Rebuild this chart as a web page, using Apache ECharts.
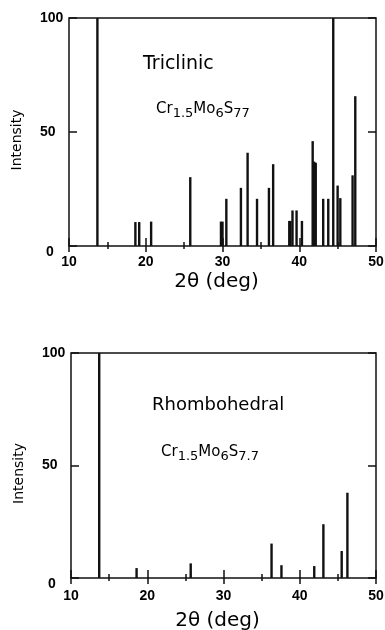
<!DOCTYPE html>
<html>
<head>
<meta charset="utf-8">
<script src="https://cdn.jsdelivr.net/npm/echarts@6/dist/echarts.min.js"></script>
<style>
  html, body { margin: 0; padding: 0; background: #fff; }
  #chart { width: 385px; height: 630px; }
</style>
</head>
<body>
<div id="chart"></div>
<script>
// peak positions (2theta, deg) and relative intensities
const triclinicAngle = [13.7, 18.65, 19.15, 20.7, 25.8, 29.8, 30.0, 30.5, 32.4, 33.27,
  34.5, 36.05, 36.6, 38.7, 38.85, 39.12, 39.65, 40.35, 41.75, 41.95, 42.15,
  43.12, 43.78, 44.43, 45.0, 45.35, 46.95, 47.3];
const triclinicIntensity = [100, 10.5, 10.5, 10.7, 30.2, 10.7, 10.7, 20.7, 25.5, 40.9,
  20.7, 25.5, 35.9, 11, 11, 15.6, 15.6, 11, 46, 37, 36.5,
  20.7, 20.7, 100, 26.5, 21, 31, 65.7];

const rhomboAngle = [13.7, 18.6, 25.7, 36.3, 37.6, 41.9, 43.1, 45.5, 46.25];
const rhomboIntensity = [100, 4.4, 6.5, 15.3, 5.7, 5.3, 23.9, 12, 37.9];

const xTicks = [10, 20, 30, 40, 50];
const yTicks = [0, 50, 100];

const ink = '#111';
const labelFont = 'Liberation Sans';
const textFont = 'DejaVu Sans';

const pairs = (xs, ys) => xs.map((x, i) => [x, ys[i]]);

const chart = echarts.init(document.getElementById('chart'));

const bottomX = (grid, margin, gap) => ({
  type: 'value', gridIndex: grid, position: 'bottom',
  min: xTicks[0], max: xTicks[xTicks.length - 1], interval: 10,
  axisLine: { show: false },
  axisTick: { inside: true, length: 8, lineStyle: { color: ink, width: 1.5 } },
  minorTick: { show: true, splitNumber: 2, length: 4, lineStyle: { color: ink, width: 1.5 } },
  splitLine: { show: false },
  axisLabel: { color: '#000', fontFamily: labelFont, fontWeight: 'bold', fontSize: 14, margin: margin },
  name: '2θ (deg)', nameLocation: 'middle', nameGap: gap,
  nameTextStyle: { color: '#000', fontFamily: textFont, fontSize: 20, padding: [0, 12, 0, 0] }
});

const topX = (grid) => ({
  type: 'value', gridIndex: grid, position: 'top',
  min: xTicks[0], max: xTicks[xTicks.length - 1], interval: 10,
  axisLine: { show: false },
  axisTick: { inside: true, length: 6, lineStyle: { color: ink, width: 1.5 } },
  minorTick: { show: true, splitNumber: 2, length: 3, lineStyle: { color: ink, width: 1.5 } },
  splitLine: { show: false },
  axisLabel: { show: false }
});

const leftY = (grid) => ({
  type: 'value', gridIndex: grid, position: 'left',
  min: yTicks[0], max: yTicks[yTicks.length - 1], interval: 50,
  axisLine: { show: false },
  axisTick: { inside: true, length: 8, lineStyle: { color: ink, width: 1.5 } },
  splitLine: { show: false },
  axisLabel: {
    color: '#000', fontFamily: labelFont, fontWeight: 'bold', fontSize: 14,
    align: 'left', margin: 29,
    formatter: v => v === 0 ? '{z|0}' : String(v),
    rich: { z: { fontFamily: labelFont, fontWeight: 'bold', fontSize: 14, color: '#000', padding: [12, 0, 0, 6] } }
  },
  name: 'Intensity', nameLocation: 'middle', nameGap: 45,
  nameTextStyle: { color: '#000', fontFamily: textFont, fontSize: 14, padding: [0, 16, 0, 0] }
});

const rightY = (grid) => ({
  type: 'value', gridIndex: grid, position: 'right',
  min: yTicks[0], max: yTicks[yTicks.length - 1], interval: 50,
  axisLine: { show: false },
  axisTick: { inside: true, length: 8, lineStyle: { color: ink, width: 1.5 } },
  splitLine: { show: false },
  axisLabel: { show: false }
});

const formulaRich = {
  m: { fontFamily: textFont, fontSize: 15, color: '#000' },
  s: { fontFamily: textFont, fontSize: 13, color: '#000', padding: [9, 0, 0, 0] }
};

const option = {
  backgroundColor: '#fff',
  animation: false,
  grid: [
    { left: 69, top: 18, width: 307, height: 228, show: true, borderColor: ink, borderWidth: 1.5,
      outerBoundsMode: 'none' },
    { left: 71, top: 353, width: 305, height: 225, show: true, borderColor: ink, borderWidth: 1.5,
      outerBoundsMode: 'none' }
  ],
  xAxis: [bottomX(0, 9, 26), topX(0), bottomX(1, 11, 33), topX(1)],
  yAxis: [leftY(0), rightY(0), leftY(1), rightY(1)],
  series: [
    {
      type: 'bar', xAxisIndex: 0, yAxisIndex: 0, barWidth: 2.4,
      itemStyle: { color: ink },
      data: pairs(triclinicAngle, triclinicIntensity)
    },
    {
      type: 'bar', xAxisIndex: 2, yAxisIndex: 2, barWidth: 2.4,
      itemStyle: { color: ink },
      data: pairs(rhomboAngle, rhomboIntensity)
    }
  ],
  graphic: [
    { type: 'text', left: 143, top: 55,
      style: { text: 'Triclinic', fontFamily: textFont, fontSize: 19, fill: '#000' } },
    { type: 'text', left: 156, top: 102,
      style: { text: '{m|Cr}{s|1.5}{m|Mo}{s|6}{m|S}{s|77}', rich: formulaRich } },
    { type: 'text', left: 152, top: 396,
      style: { text: 'Rhombohedral', fontFamily: textFont, fontSize: 18, fill: '#000' } },
    { type: 'text', left: 161, top: 445,
      style: { text: '{m|Cr}{s|1.5}{m|Mo}{s|6}{m|S}{s|7.7}', rich: formulaRich } }
  ]
};

chart.setOption(option);
</script>
</body>
</html>
